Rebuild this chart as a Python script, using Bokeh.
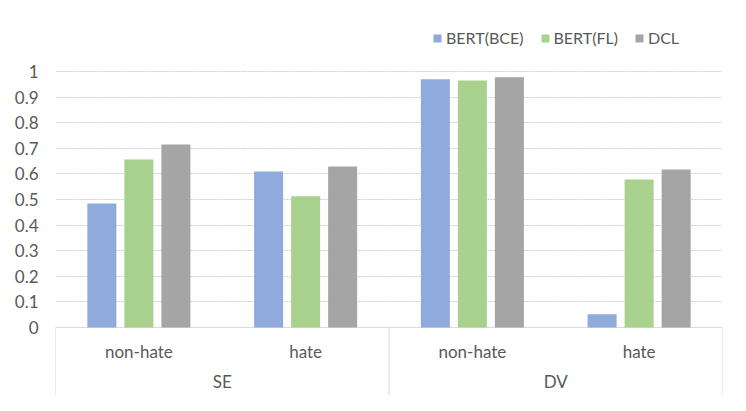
from bokeh.plotting import figure
from bokeh.models import (FactorRange, Range1d, ColumnDataSource, FixedTicker,
                          Legend, LegendItem)
from bokeh.transform import dodge
from bokeh.core.properties import value
from bokeh.embed import file_html
from bokeh.resources import INLINE

groups = ["SE", "SE", "DV", "DV"]
subs = ["non-hate", "hate", "non-hate", "hate"]
group_names = ["SE", "DV"]
series_names = ["BERT(BCE)", "BERT(FL)", "DCL"]
bce = [0.484, 0.609, 0.969, 0.051]
fl = [0.656, 0.512, 0.965, 0.578]
dcl = [0.715, 0.629, 0.977, 0.617]
y_ticks = [0, 0.1, 0.2, 0.3, 0.4, 0.5, 0.6, 0.7, 0.8, 0.9, 1]

colors = ["#8FAADC", "#A9D18E", "#A5A5A5"]
FONT = "Lato"
TXT = "#595959"
Y0, Y1 = -0.266, 1.238

factors = list(zip(groups, subs))
src = ColumnDataSource(dict(x=factors, bce=bce, fl=fl, dcl=dcl, sub=subs))

x_range = FactorRange(factors=factors, range_padding=0, factor_padding=0,
                      group_padding=0, subgroup_padding=0)
p = figure(width=730, height=395, x_range=x_range,
           y_range=Range1d(Y0, Y1), output_backend="svg",
           toolbar_location=None, min_border_left=55, min_border_right=8,
           min_border_top=10, min_border_bottom=0)
p.outline_line_color = None
p.background_fill_color = "white"
p.border_fill_color = "white"

p.xaxis.visible = False
p.xgrid.visible = False

yax = p.yaxis[0]
yax.ticker = FixedTicker(ticks=y_ticks)
yax.axis_line_color = None
yax.major_tick_line_color = None
yax.minor_tick_line_color = None
yax.major_tick_out = 0
yax.major_label_standoff = 17
yax.major_label_text_font = FONT
yax.major_label_text_font_size = "17px"
yax.major_label_text_color = TXT
yax.major_label_overrides = {0: "0", 1: "1"}

p.ygrid.ticker = FixedTicker(ticks=y_ticks[1:])
p.ygrid.grid_line_color = "#cfcfcf"
p.ygrid.grid_line_dash = "2 1"

# axis baseline and category separators
p.segment(x0=[0], x1=[4], y0=[0], y1=[0], line_color="#d9d9d9", line_width=1)
p.segment(x0=[0, 2, 4], x1=[0, 2, 4], y0=[0, 0, 0], y1=[Y0, Y0, Y0],
          line_color="#d9d9d9", line_width=1)

w = 0.174
off = 0.222
r1 = p.vbar(x=dodge("x", -off, range=p.x_range), top="bce", width=w, source=src,
            fill_color=colors[0], line_color=None)
r2 = p.vbar(x=dodge("x", 0, range=p.x_range), top="fl", width=w, source=src,
            fill_color=colors[1], line_color=None)
r3 = p.vbar(x=dodge("x", off, range=p.x_range), top="dcl", width=w, source=src,
            fill_color=colors[2], line_color=None)

# category labels
p.text(x="x", y=-0.094, text="sub", source=src, text_align="center",
       text_baseline="middle", text_font=value(FONT), text_font_size="17px",
       text_color=TXT)
p.text(x=group_names, y=[-0.212, -0.212], text=group_names, text_align="center",
       text_baseline="middle", text_font=value(FONT), text_font_size="17px",
       text_color=TXT)

legend = Legend(items=[LegendItem(label=series_names[0], renderers=[r1]),
                       LegendItem(label=series_names[1], renderers=[r2]),
                       LegendItem(label=series_names[2], renderers=[r3])],
                orientation="horizontal", location=(377, 348),
                glyph_width=10, glyph_height=10, label_standoff=4, spacing=16,
                padding=0, margin=0, label_text_font=FONT,
                label_text_font_size="16px", label_text_color=TXT,
                border_line_color=None, background_fill_alpha=0)
p.add_layout(legend, "center")

open("out.html", "w").write(file_html(p, INLINE))
